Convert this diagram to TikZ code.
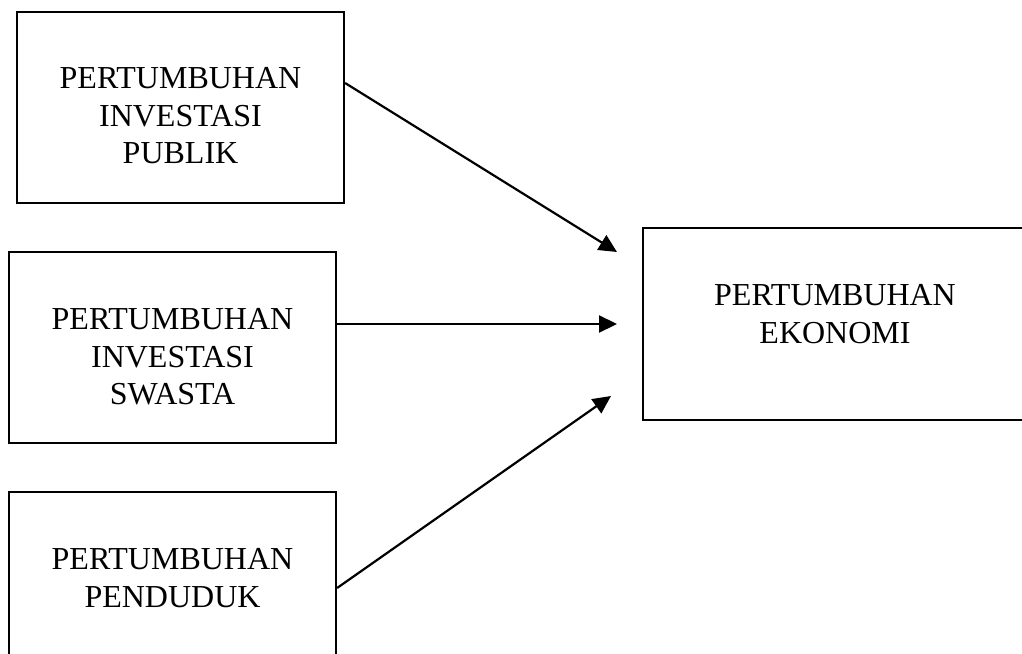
\documentclass[tikz,border=0pt]{standalone}
\usepackage{fontspec}
\setmainfont{Liberation Serif}
\usetikzlibrary{arrows.meta}
\begin{document}
\begin{tikzpicture}[x=1pt,y=-1pt,
  box/.style={draw=black,line width=2.2pt,rectangle,inner sep=0pt},
  txt/.style={anchor=base,inner sep=0pt,font=\fontsize{32}{38}\selectfont},
  arr/.style={draw=black,line width=2.2pt,-{Triangle[length=18pt,width=17pt]}}]
\useasboundingbox (0,0) rectangle (1022,653);
\clip (0,0) rectangle (1022,653);
\fill[white] (0,0) rectangle (1022,653);
% boxes
\node[box,minimum width=327pt,minimum height=191pt] (b1) at (180.5,107.5) {};
\node[box,minimum width=327pt,minimum height=191pt] (b2) at (172.5,347.5) {};
\node[box,minimum width=327pt,minimum height=188pt] (b3) at (172.5,586) {};
\node[box,minimum width=381pt,minimum height=192pt] (b4) at (833.5,324) {};
% texts
\node[txt] (t1a) at (180.5,88.5) {PERTUMBUHAN};
\node[txt] (t1b) at (180.5,126) {INVESTASI};
\node[txt] (t1c) at (180.5,163.5) {PUBLIK};
\node[txt] (t2a) at (172.5,329) {PERTUMBUHAN};
\node[txt] (t2b) at (172.5,367) {INVESTASI};
\node[txt] (t2c) at (172.5,404) {SWASTA};
\node[txt] (t3a) at (172.5,569) {PERTUMBUHAN};
\node[txt] (t3b) at (172.5,607) {PENDUDUK};
\node[txt] (t4a) at (835,305) {PERTUMBUHAN};
\node[txt] (t4b) at (835,343) {EKONOMI};
% arrow ends
\coordinate (y1) at (0,83);
\coordinate (y2) at (0,324);
\coordinate (y3) at (0,588);
\coordinate (e1) at (617,252);
\coordinate (e2) at (617,324);
\coordinate (e3) at (611,396);
\draw[arr] (b1.east |- y1) -- (e1);
\draw[arr] (b2.east |- y2) -- (e2);
\draw[arr] (b3.east |- y3) -- (e3);
\end{tikzpicture}
\end{document}
